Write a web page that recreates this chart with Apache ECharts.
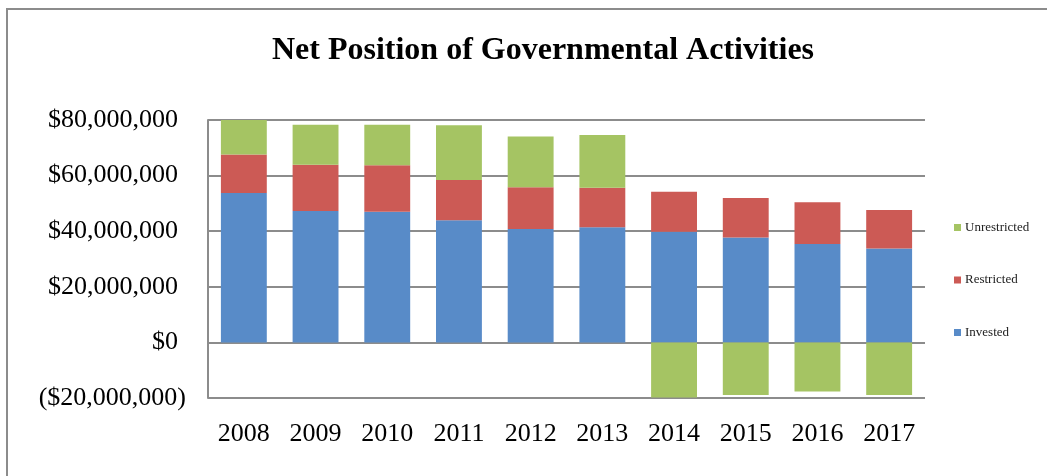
<!DOCTYPE html>
<html lang="en">
<head>
    <meta charset="UTF-8">
    <script type="text/javascript" src="https://cdn.jsdelivr.net/npm/echarts@6/dist/echarts.min.js"></script>
    <title>Net Position of Governmental Activities</title>
    <style>
        html, body { margin: 0; padding: 0; background: #fff; }
        #main { width: 1047px; height: 476px; }
    </style>
</head>
<body>
<div id="main"></div>
<script type="text/javascript">
    // data (dollars)
    var years = ['2008', '2009', '2010', '2011', '2012', '2013', '2014', '2015', '2016', '2017'];
    var invested = [53700000, 47300000, 47000000, 43900000, 40800000, 41400000, 39800000, 37700000, 35400000, 33800000];
    var restricted = [13900000, 16600000, 16700000, 14500000, 15000000, 14200000, 14400000, 14200000, 15000000, 13800000];
    var unrestricted = [12400000, 14400000, 14600000, 19700000, 18300000, 19000000, -19800000, -18900000, -17700000, -18900000];

    var serif = '"Liberation Serif", "DejaVu Serif", serif';

    // excel style: negatives in brackets, positives leave room for the ")"
    function money(v) {
        var s = '$' + Math.abs(v).toLocaleString('en-US');
        return v < 0 ? '{n|(' + s + ')}' : '{p|' + s + '}';
    }

    var labelFont = { fontFamily: serif, fontSize: 26, color: '#000' };

    var myChart = echarts.init(document.getElementById('main'));
    var option = {
        backgroundColor: '#fff',
        animation: false,
        title: {
            text: 'Net Position of Governmental Activities',
            left: 538,
            textAlign: 'center',
            top: 30,
            textStyle: { fontFamily: serif, fontSize: 32, fontWeight: 'bold', color: '#000' }
        },
        graphic: [{
            // outer chart frame
            type: 'rect',
            shape: { x: 7, y: 9, width: 1100, height: 500 },
            style: { fill: null, stroke: '#8c8c8c', lineWidth: 2 }
        }],
        legend: {
            orient: 'vertical',
            left: 949,
            top: 216,
            itemGap: 39.5,
            itemWidth: 7,
            itemHeight: 7,
            icon: 'rect',
            data: ['Unrestricted', 'Restricted', 'Invested'],
            textStyle: { fontFamily: serif, fontSize: 13, color: '#222', padding: [0, 0, 0, -1] }
        },
        grid: { left: 208, right: 122, top: 120, bottom: 78 },
        xAxis: {
            type: 'category',
            data: years,
            axisLine: { show: false },
            axisTick: { show: false },
            axisLabel: { fontFamily: serif, fontSize: 26, color: '#000', margin: 23 }
        },
        yAxis: {
            type: 'value',
            min: -20000000,
            max: 80000000,
            interval: 20000000,
            axisLine: { show: true, lineStyle: { color: '#8c8c8c', width: 2 } },
            axisTick: { show: false },
            splitLine: { lineStyle: { color: '#8c8c8c', width: 2 } },
            axisLabel: {
                margin: 22,
                formatter: money,
                rich: {
                    p: Object.assign({ padding: [0, 8, 0, 0] }, labelFont),
                    n: labelFont
                }
            }
        },
        series: [{
            name: 'Invested',
            type: 'bar',
            stack: 'net',
            barCategoryGap: '36%',
            itemStyle: { color: '#588BC8' },
            data: invested
        }, {
            name: 'Restricted',
            type: 'bar',
            stack: 'net',
            itemStyle: { color: '#CC5A55' },
            data: restricted
        }, {
            name: 'Unrestricted',
            type: 'bar',
            stack: 'net',
            itemStyle: { color: '#A5C463' },
            data: unrestricted
        }]
    };
    myChart.setOption(option);
</script>
</body>
</html>
